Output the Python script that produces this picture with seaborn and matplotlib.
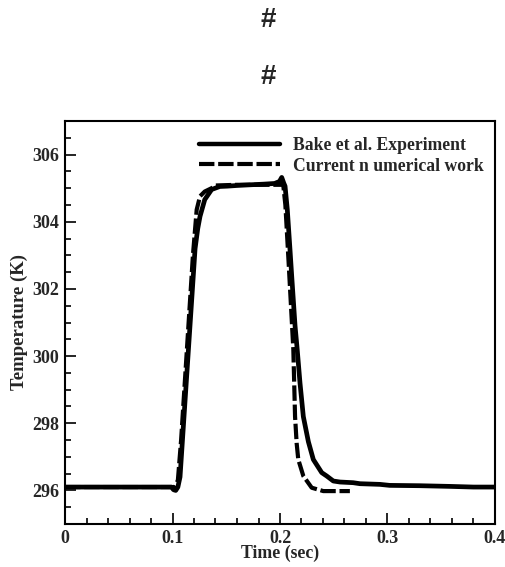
import numpy as np
import pandas as pd
import matplotlib
matplotlib.use("Agg")
import matplotlib.pyplot as plt
from matplotlib.lines import Line2D
from matplotlib.ticker import MultipleLocator
import seaborn as sns

# Experimental temperature trace (Bake et al.)
t_exp = [0.0, 0.05, 0.099, 0.101, 0.103, 0.105, 0.107, 0.1105, 0.114, 0.1175,
         0.121, 0.1235, 0.1256, 0.130, 0.1364, 0.144, 0.151, 0.160, 0.172,
         0.185, 0.195, 0.1995, 0.2016, 0.2035, 0.2047, 0.2068, 0.2093, 0.2109,
         0.214, 0.216, 0.2186, 0.2217, 0.2264, 0.231, 0.2388, 0.2434, 0.2496,
         0.2558, 0.268, 0.2744, 0.293, 0.302, 0.33, 0.358, 0.38, 0.4]
T_exp = [296.1, 296.1, 296.1, 296.02, 296.0, 296.1, 296.4, 298.1, 299.8, 301.5,
         303.2, 303.8, 304.16, 304.66, 304.96, 305.05, 305.06, 305.08, 305.1,
         305.12, 305.14, 305.2, 305.32, 305.15, 305.06, 304.36, 303.17, 302.38,
         300.9, 300.2, 299.2, 298.2, 297.45, 296.92, 296.53, 296.43, 296.28,
         296.25, 296.23, 296.2, 296.18, 296.15, 296.14, 296.12, 296.1, 296.1]

# Numerical prediction
t_num = [0.0, 0.1, 0.102, 0.105, 0.108, 0.112, 0.116, 0.119, 0.1225, 0.1256,
         0.130, 0.1364, 0.140, 0.160, 0.180, 0.200, 0.203, 0.205, 0.208,
         0.2124, 0.214, 0.2155, 0.217, 0.2217, 0.2295, 0.2403, 0.265]
T_num = [296.1, 296.1, 296.1, 296.3, 297.5, 299.5, 301.5, 303.0, 304.36, 304.76,
         304.9, 305.0, 305.08, 305.1, 305.1, 305.1, 305.1, 304.5, 302.8,
         300.2, 298.2, 297.4, 296.92, 296.43, 296.08, 295.98, 295.98]

legend_labels = ["Bake et al. Experiment", "Current n umerical work"]
x_ticks = [0, 0.1, 0.2, 0.3, 0.4]
x_ticklabels = ["0", "0.1", "0.2", "0.3", "0.4"]
y_ticks = [296, 298, 300, 302, 304, 306]

sns.set_style("ticks")
plt.rcParams["font.family"] = ["Liberation Serif", "DejaVu Serif"]
plt.rcParams["font.weight"] = "bold"

fig = plt.figure(figsize=(5.06, 5.67), dpi=100)
ax = fig.add_axes([65 / 506, 1 - 524 / 567, 430 / 506, 403 / 567])

exp_df = pd.DataFrame({"t": t_exp, "T": T_exp})
num_df = pd.DataFrame({"t": t_num, "T": T_num})

sns.lineplot(data=exp_df, x="t", y="T", ax=ax, color="black", lw=3.4,
             sort=False, estimator=None, solid_capstyle="round")
sns.lineplot(data=num_df, x="t", y="T", ax=ax, color="black", lw=3.0,
             sort=False, estimator=None, dashes=False,
             linestyle=(0, (3.7, 0.9)))

ax.set_xlim(0, 0.4)
ax.set_ylim(295, 307)
ax.set_xticks(x_ticks)
ax.set_xticklabels(x_ticklabels)
ax.set_yticks(y_ticks)
ax.xaxis.set_minor_locator(MultipleLocator(0.02))
ax.yaxis.set_minor_locator(MultipleLocator(0.5))

ax.tick_params(which="both", direction="in", top=False, right=False,
               width=1.2, color="black")
ax.tick_params(which="major", length=8, labelsize=13, pad=4)
ax.tick_params(which="minor", length=4.5)
for lab in ax.get_xticklabels() + ax.get_yticklabels():
    lab.set_fontweight("bold")

for sp in ax.spines.values():
    sp.set_linewidth(1.5)
    sp.set_color("black")

ax.set_xlabel("Time (sec)", fontsize=12.8, fontweight="bold", labelpad=-1)
ax.set_ylabel("Temperature (K)", fontsize=13.5, fontweight="bold", labelpad=3)

handles = [Line2D([], [], color="black", lw=3.2),
           Line2D([], [], color="black", lw=3.0, linestyle=(0, (3.7, 0.9)))]
ax.legend(handles, legend_labels, loc="upper left",
          bbox_to_anchor=((199 - 65) / 430, (524 - 137) / 403),
          frameon=False, handlelength=4.6, handletextpad=0.75,
          labelspacing=0.2, borderpad=0, borderaxespad=0,
          prop={"family": "Liberation Serif", "weight": "bold", "size": 12.7})

fig.text(268 / 506, 1 - 20 / 567, "#", ha="center", va="center",
         fontsize=20, family="Liberation Sans")
fig.text(268 / 506, 1 - 77.5 / 567, "#", ha="center", va="center",
         fontsize=20, family="Liberation Sans")

fig.savefig("out.png", dpi=100, facecolor="white")
